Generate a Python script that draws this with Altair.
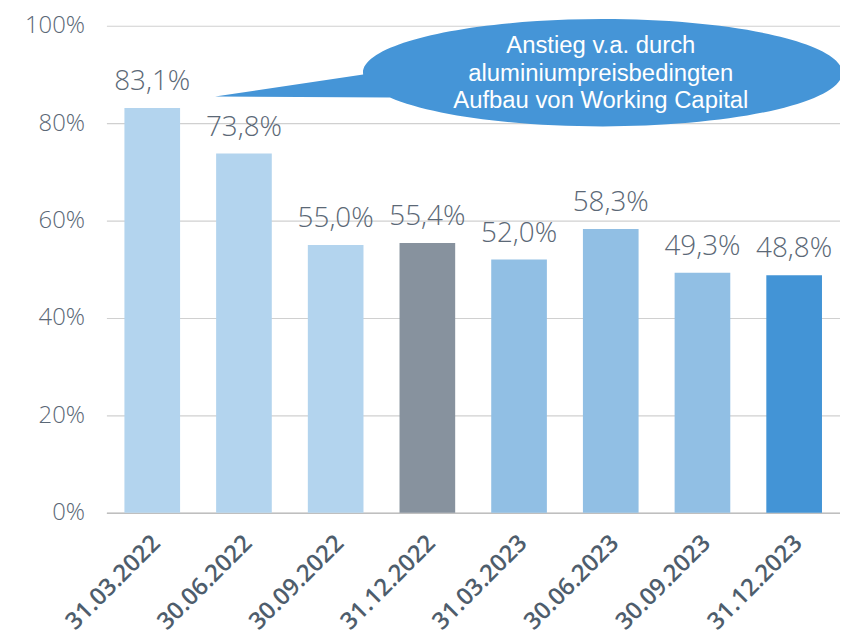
import altair as alt
import pandas as pd

# ---- data ----
dates = ["31.03.2022", "30.06.2022", "30.09.2022", "31.12.2022",
         "31.03.2023", "30.06.2023", "30.09.2023", "31.12.2023"]
values = [83.1, 73.8, 55.0, 55.4, 52.0, 58.3, 49.3, 48.8]
y_ticks = [0, 20, 40, 60, 80, 100]

callout_text = "Anstieg v.a. durch\naluminiumpreisbedingten\nAufbau von Working Capital"
callout_date = ["30.06.2023"]
callout_value = [90.6]

# ---- styles ----
bar_colors = ["#B3D4EE", "#B3D4EE", "#B3D4EE", "#87929E",
              "#91BFE4", "#91BFE4", "#91BFE4", "#4394D6"]
callout_color = "#4595D7"
label_color = "#5B6876"
xlabel_color = "#4E5D6C"

# callout shape (ellipse with pointer) in unit coordinates
callout_shape = ("M -0.992 0.012 L -1.61 0.104 L -0.88 0.108 "
                 "A 1 0.224 0 1 0 -0.992 0.012 Z")

df = pd.DataFrame({
    "date": dates,
    "value": values,
    "label": [f"{v:.1f}".replace(".", ",") + "%" for v in values],
})
ann = pd.DataFrame({"date": callout_date, "value": callout_value,
                    "text": [callout_text]})

x_enc = alt.X(
    "date:N", sort=dates, title=None,
    scale=alt.Scale(paddingInner=0.393, paddingOuter=0.1965),
    axis=alt.Axis(labelAngle=-45, labelFont="Open Sans", labelFontSize=24,
                  labelFontWeight=600, labelColor=xlabel_color,
                  labelPadding=18, labelOffset=-4, ticks=False, domain=True,
                  domainColor="#BFBFBF", domainWidth=1.5, grid=False),
)
y_enc = alt.Y(
    "value:Q", title=None,
    scale=alt.Scale(domain=[0, 100], nice=False),
    axis=alt.Axis(values=y_ticks, labelExpr="datum.value + '%'",
                  labelFont="Open Sans", labelFontSize=24, labelFontWeight=300,
                  labelColor=label_color, labelPadding=22, ticks=False,
                  domain=False, grid=True, gridColor="#D0D0D0", gridWidth=1.2),
)

bars = alt.Chart(df).mark_bar().encode(
    x=x_enc, y=y_enc,
    color=alt.Color("date:N", sort=dates,
                    scale=alt.Scale(domain=dates, range=bar_colors), legend=None),
)

labels = alt.Chart(df).mark_text(
    font="Open Sans", fontSize=28, fontWeight=300, color=label_color,
    baseline="alphabetic", dy=-18,
).encode(x=alt.X("date:N", sort=dates), y="value:Q", text="label:N")

bubble = alt.Chart(ann).mark_point(
    shape=callout_shape, size=482 * 482, filled=True, fill=callout_color,
    opacity=1, strokeWidth=0, xOffset=-10,
).encode(x=alt.X("date:N", sort=dates), y="value:Q")

bubble_text = alt.Chart(ann).mark_text(
    font="Liberation Sans", fontSize=24, color="white", align="center",
    baseline="alphabetic", lineBreak="\n", lineHeight=28, dx=-10, dy=-19,
).encode(x=alt.X("date:N", sort=dates), y="value:Q", text="text:N")

chart = alt.layer(bars, labels, bubble, bubble_text).properties(
    width=738, height=490,
    autosize=alt.AutoSizeParams(type="none"),
    padding={"left": 99, "top": 16, "right": 0, "bottom": 122},
).configure_view(stroke=None)

chart.save("out.html", embed_options={"renderer": "svg", "actions": False})
